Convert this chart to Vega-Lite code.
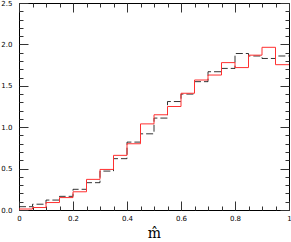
{
  "$schema": "https://vega.github.io/schema/vega-lite/v6.json",
  "width": 270,
  "height": 207,
  "autosize": {"type": "none"},
  "padding": {"left": 19, "top": 3, "right": 2, "bottom": 32},
  "background": "white",
  "config": {
    "view": {"stroke": "black", "strokeWidth": 1},
    "axis": {"grid": false, "domain": false, "tickColor": "#333", "labelFont": "DejaVu Sans", "labelFontSize": 7, "labelColor": "black", "labelOverlap": false, "labelFlush": false, "labelBound": false}
  },
  "datasets": {
    "d": [
      {"s": "black", "x": 0.00, "v": 0.04},
      {"s": "black", "x": 0.05, "v": 0.07},
      {"s": "black", "x": 0.10, "v": 0.12},
      {"s": "black", "x": 0.15, "v": 0.165},
      {"s": "black", "x": 0.20, "v": 0.25},
      {"s": "black", "x": 0.25, "v": 0.33},
      {"s": "black", "x": 0.30, "v": 0.47},
      {"s": "black", "x": 0.35, "v": 0.62},
      {"s": "black", "x": 0.40, "v": 0.82},
      {"s": "black", "x": 0.45, "v": 0.92},
      {"s": "black", "x": 0.50, "v": 1.11},
      {"s": "black", "x": 0.55, "v": 1.31},
      {"s": "black", "x": 0.60, "v": 1.40},
      {"s": "black", "x": 0.65, "v": 1.55},
      {"s": "black", "x": 0.70, "v": 1.67},
      {"s": "black", "x": 0.75, "v": 1.71},
      {"s": "black", "x": 0.80, "v": 1.89},
      {"s": "black", "x": 0.85, "v": 1.86},
      {"s": "black", "x": 0.90, "v": 1.83},
      {"s": "black", "x": 0.95, "v": 1.86},
      {"s": "black", "x": 1.00, "v": 1.86},
      {"s": "red", "x": 0.00, "v": 0.012},
      {"s": "red", "x": 0.05, "v": 0.03},
      {"s": "red", "x": 0.10, "v": 0.09},
      {"s": "red", "x": 0.15, "v": 0.15},
      {"s": "red", "x": 0.20, "v": 0.22},
      {"s": "red", "x": 0.25, "v": 0.37},
      {"s": "red", "x": 0.30, "v": 0.49},
      {"s": "red", "x": 0.35, "v": 0.66},
      {"s": "red", "x": 0.40, "v": 0.80},
      {"s": "red", "x": 0.45, "v": 1.04},
      {"s": "red", "x": 0.50, "v": 1.15},
      {"s": "red", "x": 0.55, "v": 1.25},
      {"s": "red", "x": 0.60, "v": 1.41},
      {"s": "red", "x": 0.65, "v": 1.57},
      {"s": "red", "x": 0.70, "v": 1.63},
      {"s": "red", "x": 0.75, "v": 1.78},
      {"s": "red", "x": 0.80, "v": 1.72},
      {"s": "red", "x": 0.85, "v": 1.87},
      {"s": "red", "x": 0.90, "v": 1.965},
      {"s": "red", "x": 0.95, "v": 1.755},
      {"s": "red", "x": 1.00, "v": 1.755}
    ]
  },
  "layer": [
    {
      "data": {"name": "d"},
      "transform": [{"filter": "datum.s === 'black'"}],
      "mark": {"type": "line", "interpolate": "step-after", "color": "black", "strokeWidth": 0.8, "strokeDash": [7, 3]},
      "encoding": {
        "x": {"field": "x", "type": "quantitative", "scale": {"domain": [0, 1], "nice": false, "zero": false},
          "axis": {"orient": "bottom", "values": [0,0.05,0.1,0.15,0.2,0.25,0.3,0.35,0.4,0.45,0.5,0.55,0.6,0.65,0.7,0.75,0.8,0.85,0.9,0.95,1],
            "labelExpr": "abs(round(datum.value*20))%4==0 ? format(datum.value, '~g') : ''",
            "tickSize": {"condition": {"test": "abs(round(datum.value*20))%4==0", "value": -9}, "value": -4},
            "labelPadding": 13,
            "title": "m̂", "titleFont": "DejaVu Serif", "titleFontSize": 14, "titleFontWeight": "normal", "titleColor": "black", "titlePadding": 0}},
        "y": {"field": "v", "type": "quantitative", "scale": {"domain": [0, 2.5], "nice": false},
          "axis": {"orient": "left", "values": [0,0.1,0.2,0.3,0.4,0.5,0.6,0.7,0.8,0.9,1,1.1,1.2,1.3,1.4,1.5,1.6,1.7,1.8,1.9,2,2.1,2.2,2.3,2.4,2.5],
            "labelExpr": "abs(round(datum.value*10))%5==0 ? format(datum.value, '.1f') : ''",
            "tickSize": {"condition": {"test": "abs(round(datum.value*10))%5==0", "value": -9}, "value": -4},
            "labelPadding": 16, "title": null}}
      }
    },
    {
      "data": {"name": "d"},
      "transform": [{"filter": "datum.s === 'red'"}],
      "mark": {"type": "line", "interpolate": "step-after", "color": "#ff3030", "strokeWidth": 1},
      "encoding": {
        "x": {"field": "x", "type": "quantitative", "scale": {"domain": [0, 1], "nice": false, "zero": false},
          "axis": {"orient": "top", "values": [0,0.05,0.1,0.15,0.2,0.25,0.3,0.35,0.4,0.45,0.5,0.55,0.6,0.65,0.7,0.75,0.8,0.85,0.9,0.95,1],
            "labels": false,
            "tickSize": {"condition": {"test": "abs(round(datum.value*20))%4==0", "value": -9}, "value": -4},
            "title": null}},
        "y": {"field": "v", "type": "quantitative", "scale": {"domain": [0, 2.5], "nice": false},
          "axis": {"orient": "right", "values": [0,0.1,0.2,0.3,0.4,0.5,0.6,0.7,0.8,0.9,1,1.1,1.2,1.3,1.4,1.5,1.6,1.7,1.8,1.9,2,2.1,2.2,2.3,2.4,2.5],
            "labels": false,
            "tickSize": {"condition": {"test": "abs(round(datum.value*10))%5==0", "value": -9}, "value": -4},
            "title": null}}
      }
    }
  ],
  "resolve": {"axis": {"x": "independent", "y": "independent"}}
}
